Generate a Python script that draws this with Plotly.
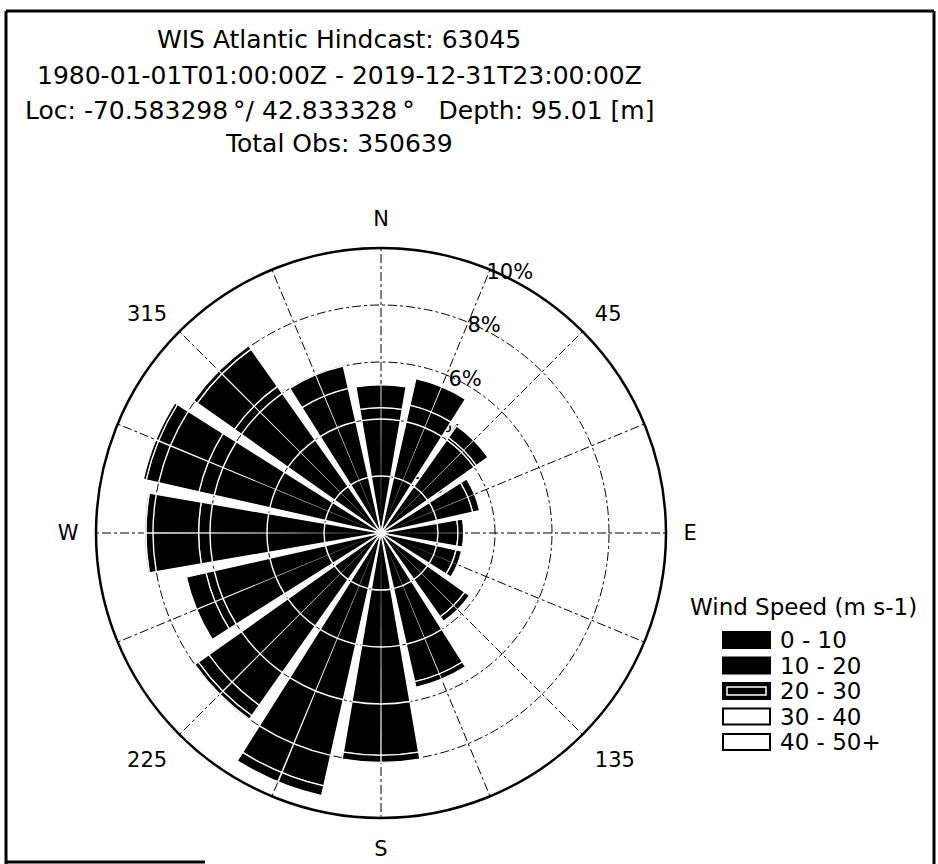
import plotly.graph_objects as go

# ---- data (percent of observations) ----
directions = [0, 22.5, 45, 67.5, 90, 112.5, 135, 157.5,
              180, 202.5, 225, 247.5, 270, 292.5, 315, 337.5]
speed_bins = ["0 - 10", "10 - 20", "20 - 30", "30 - 40", "40 - 50+"]
freq_0_10 = [4.4, 4.6, 4.1, 3.3, 2.7, 2.7, 3.6, 5.35,
             7.8, 9.1, 7.4, 6.3, 6.4, 6.55, 6.3, 5.2]
freq_10_20 = [0.8, 0.95, 0.5, 0.25, 0.2, 0.2, 0.2, 0.2,
              0.25, 0.35, 0.45, 0.7, 1.85, 1.9, 1.6, 0.8]
freq_20_30 = [0, 0, 0, 0, 0, 0, 0, 0,
              0, 0, 0.15, 0, 0.05, 0.1, 0.15, 0]
freq_30_40 = [0, 0, 0, 0, 0, 0, 0, 0,
              0, 0, 0, 0, 0, 0, 0, 0]
freq_40_50 = [0, 0, 0, 0, 0, 0, 0, 0,
              0, 0, 0, 0, 0, 0, 0, 0]
radial_ticks = [2, 4, 6, 8, 10]
radial_tick_text = ["2%", "4%", "6%", "8%", "10%"]
angular_ticks = directions
angular_tick_text = ["N", "", "45", "", "E", "", "135", "",
                     "S", "", "225", "", "W", "", "315", ""]
legend_title = "Wind Speed (m s-1)"
title_lines = [
    "WIS Atlantic Hindcast: 63045",
    "1980-01-01T01:00:00Z - 2019-12-31T23:00:00Z",
    "Loc: -70.583298\u2009\u00b0/ 42.833328\u2009\u00b0\u00a0\u00a0\u00a0Depth: 95.01 [m]",
    "Total Obs: 350639",
]

series = [freq_0_10, freq_10_20, freq_20_30, freq_30_40, freq_40_50]
fills = ["#000000", "#000000", "#000000", "#ffffff", "#ffffff"]
edges = ["#ffffff", "#ffffff", "#ffffff", "#000000", "#000000"]

BAR_W = 19.5
FONT = "DejaVu Sans, Verdana, sans-serif"
W, H = 938, 864


def px(x):
    return x / W


def py(y):
    return 1 - y / H


fig = go.Figure()
base = [0.0] * len(directions)
for name, vals, fc, ec in zip(speed_bins, series, fills, edges):
    fig.add_trace(go.Barpolar(
        r=vals, theta=directions, base=list(base), width=BAR_W, name=name,
        marker=dict(color=fc, line=dict(color=ec, width=1.3)),
        showlegend=False,
    ))
    base = [b + v for b, v in zip(base, vals)]
totals = base

# white grid traces drawn over the bars (as in the reference)
arc_theta, arc_base = [], []
for g in radial_ticks[:-1]:
    for d, t in zip(directions, totals):
        if t > g + 0.05:
            arc_theta.append(d)
            arc_base.append(g - 0.025)
fig.add_trace(go.Barpolar(
    r=[0.05] * len(arc_theta), theta=arc_theta, base=arc_base, width=BAR_W,
    marker=dict(color="white", line=dict(width=0)),
    showlegend=False, hoverinfo="skip"))
fig.add_trace(go.Barpolar(
    r=totals, theta=directions, base=[0] * len(directions), width=0.35,
    marker=dict(color="white", line=dict(width=0)),
    showlegend=False, hoverinfo="skip"))

cx, cy, R = 381, 533, 285
fig.update_layout(
    width=W, height=H,
    margin=dict(l=0, r=0, t=0, b=0),
    paper_bgcolor="white",
    font=dict(family=FONT, size=21, color="black"),
    showlegend=False,
    polar=dict(
        domain=dict(x=[(cx - R) / W, (cx + R) / W],
                    y=[(H - cy - R) / H, (H - cy + R) / H]),
        bgcolor="white",
        barmode="overlay",
        radialaxis=dict(
            range=[0, 10], tickvals=radial_ticks, ticktext=radial_tick_text,
            angle=70.5, tickangle=70.5, side="clockwise",
            showline=False, ticks="",
            gridcolor="#000000", gridwidth=1, griddash="dashdot",
            layer="below traces", tickfont=dict(size=21)),
        angularaxis=dict(
            direction="clockwise", rotation=90,
            tickvals=angular_ticks, ticktext=angular_tick_text,
            showline=True, linecolor="black", linewidth=2.5,
            ticks="outside", ticklen=12, tickcolor="rgba(0,0,0,0)",
            gridcolor="#000000", gridwidth=1, griddash="dashdot",
            layer="below traces", tickfont=dict(size=21)),
    ),
)

# title lines
title_y = [40, 75, 110, 143]
for txt, yy in zip(title_lines, title_y):
    fig.add_annotation(text=txt, x=px(339), y=py(yy), xref="paper", yref="paper",
                       xanchor="center", yanchor="middle", showarrow=False,
                       font=dict(size=25, family=FONT))

# legend (drawn as swatches + labels)
fig.add_annotation(text=legend_title, x=px(688), y=py(607), xref="paper", yref="paper",
                   xanchor="left", yanchor="middle", showarrow=False,
                   font=dict(size=23, family=FONT))
leg_y0, leg_dy = 640, 25.5
for i, (name, fc) in enumerate(zip(speed_bins, fills)):
    yc = leg_y0 + i * leg_dy
    fig.add_shape(type="rect", xref="paper", yref="paper",
                  x0=px(723), x1=px(770), y0=py(yc - 8), y1=py(yc + 8),
                  fillcolor=fc, line=dict(color="black", width=2))
    if i == 2:
        fig.add_shape(type="rect", xref="paper", yref="paper",
                      x0=px(727), x1=px(766), y0=py(yc - 4), y1=py(yc + 4),
                      fillcolor="rgba(0,0,0,0)", line=dict(color="white", width=1.5))
    fig.add_annotation(text=name, x=px(778), y=py(yc), xref="paper", yref="paper",
                       xanchor="left", yanchor="middle", showarrow=False,
                       font=dict(size=23, family=FONT))

# outer frame
frame = [(6, 11, 934, 11), (6, 11, 6, 864), (934, 11, 934, 864), (6, 862, 205, 862)]
for x0, y0, x1, y1 in frame:
    fig.add_shape(type="line", x0=px(x0), y0=py(y0), x1=px(x1), y1=py(y1),
                  xref="paper", yref="paper", line=dict(color="black", width=3))

fig.write_html("out.html",
               config={"displayModeBar": False},
               post_script="document.body.style.margin='0px';"
                           "document.body.style.overflow='hidden';")
